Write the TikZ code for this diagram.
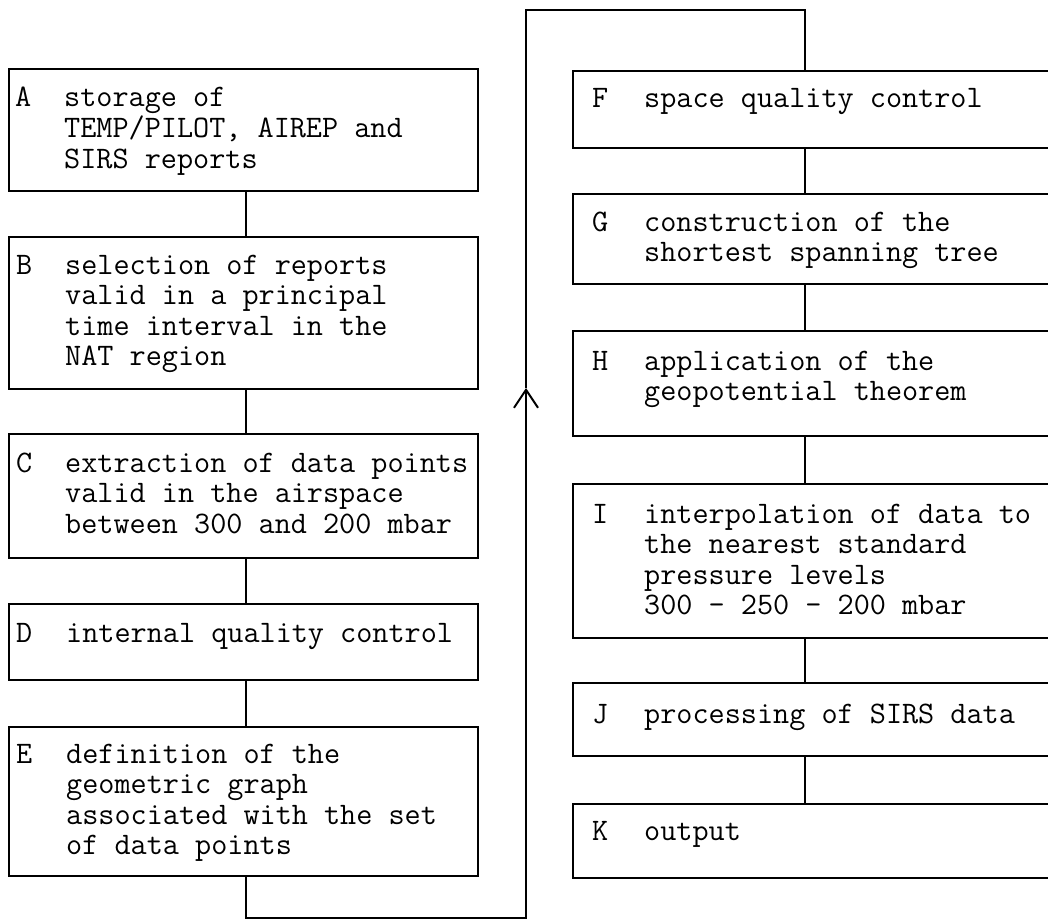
\documentclass[tikz,border=0pt]{standalone}
\usepackage{fontspec}
\usetikzlibrary{arrows.meta}
\newcommand\diagtt{\fontsize{31.3}{30.5}\selectfont\ttfamily}
\newcommand\txtlines[1]{\begin{tabular}[t]{@{}l@{}}#1\end{tabular}}
\begin{document}
\begin{tikzpicture}[x=1pt,y=-1pt,
  box/.style={draw, line width=1.6pt, anchor=north west, inner sep=0pt},
  lbl/.style={anchor=base west, inner sep=0pt, font=\diagtt},
  txt/.style={anchor=base west, inner sep=0pt, font=\diagtt},
  conn/.style={line width=1.5pt},
  lw/.style={minimum width=469pt},
  rw/.style={minimum width=484pt}]
\useasboundingbox (0,0) rectangle (1048,920);
\coordinate (xl) at (246,0);
\coordinate (xr) at (805,0);
% left column
\node[box, lw, minimum height=122pt] (A) at (8,68) {};
\node[lbl] (Al) at (15,107) {A};
\node[txt] (At) at (64,107) {\txtlines{storage of\\TEMP/PILOT, AIREP and\\SIRS reports}};
\node[box, lw, minimum height=152pt] (B) at (8,236) {};
\node[lbl] (Bl) at (16,274) {B};
\node[txt] (Bt) at (65,274) {\txtlines{selection of reports\\valid in a principal\\time interval in the\\NAT region}};
\node[box, lw, minimum height=124pt] (C) at (8,433) {};
\node[lbl] (Cl) at (16,472) {C};
\node[txt] (Ct) at (65,472) {\txtlines{extraction of data points\\valid in the airspace\\between 300 and 200 mbar}};
\node[box, lw, minimum height=76pt] (D) at (8,603) {};
\node[lbl] (Dl) at (16,642) {D};
\node[txt] (Dt) at (66,642) {\txtlines{internal quality control}};
\node[box, lw, minimum height=149pt] (E) at (8,726) {};
\node[lbl] (El) at (16,763) {E};
\node[txt] (Et) at (66,763) {\txtlines{definition of the\\geometric graph\\associated with the set\\of data points}};
% right column
\node[box, rw, minimum height=77pt] (F) at (572,70) {};
\node[lbl] (Fl) at (592,108) {F};
\node[txt] (Ft) at (644,108) {\txtlines{space quality control}};
\node[box, rw, minimum height=90pt] (G) at (572,193) {};
\node[lbl] (Gl) at (592,231) {G};
\node[txt] (Gt) at (644,231) {\txtlines{construction of the\\shortest spanning tree}};
\node[box, rw, minimum height=105pt] (H) at (572,330) {};
\node[lbl] (Hl) at (592,370) {H};
\node[txt] (Ht) at (644,370) {\txtlines{application of the\\geopotential theorem}};
\node[box, rw, minimum height=154pt] (I) at (572,483) {};
\node[lbl] (Il) at (592,523) {I};
\node[txt] (It) at (644,523) {\txtlines{interpolation of data to\\the nearest standard\\pressure levels\\300 - 250 - 200 mbar}};
\node[box, rw, minimum height=73pt] (J) at (572,682) {};
\node[lbl] (Jl) at (592,723) {J};
\node[txt] (Jt) at (644,723) {\txtlines{processing of SIRS data}};
\node[box, rw, minimum height=74pt] (K) at (572,803) {};
\node[lbl] (Kl) at (592,840) {K};
\node[txt] (Kt) at (644,840) {\txtlines{output}};
% connectors
\draw[conn] (A.south -| xl) -- (B.north -| xl);
\draw[conn] (B.south -| xl) -- (C.north -| xl);
\draw[conn] (C.south -| xl) -- (D.north -| xl);
\draw[conn] (D.south -| xl) -- (E.north -| xl);
\draw[conn] (F.south -| xr) -- (G.north -| xr);
\draw[conn] (G.south -| xr) -- (H.north -| xr);
\draw[conn] (H.south -| xr) -- (I.north -| xr);
\draw[conn] (I.south -| xr) -- (J.north -| xr);
\draw[conn] (J.south -| xr) -- (K.north -| xr);
% feedback loop
\coordinate (lb) at (526,918);
\coordinate (tip) at (526,388);
\coordinate (tp) at (526,10);
\draw[conn, -{Straight Barb[length=18pt,width=24pt,line width=2pt]}] (E.south -| xl) |- (lb) -- (tip);
\draw[conn] (tip) -- (tp) -| (F.north -| xr);
\end{tikzpicture}
\end{document}
